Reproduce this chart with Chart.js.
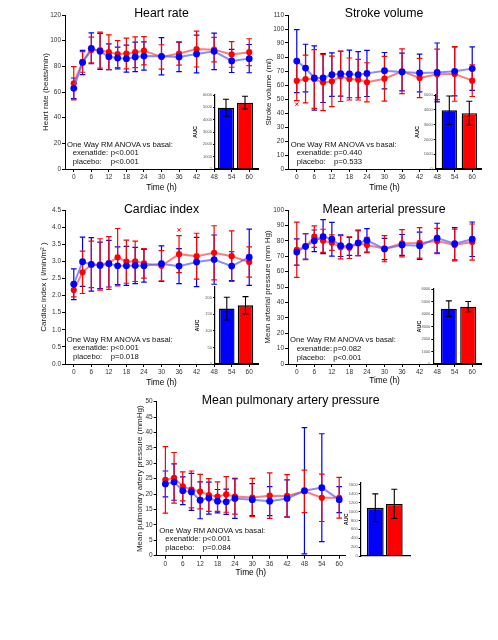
<!DOCTYPE html>
<html>
<head>
<meta charset="utf-8">
<script src="https://cdn.jsdelivr.net/npm/chart.js@4.4.1/dist/chart.umd.min.js"></script>
<style>
  body { margin: 0; background: #fff; width: 498px; height: 640px; position: relative; overflow: hidden;
         font-family: "Liberation Sans", Arial, sans-serif; }
  canvas { position: absolute; left: 0; top: 0; }
  .lbl { position: absolute; white-space: pre; color: #111; line-height: 1; }
</style>
</head>
<body>
<script>
// time points and x axis ticks (hours)
const hours = [0, 3, 6, 9, 12, 15, 18, 21, 24, 30, 36, 42, 48, 54, 60];
const timeTicks = [0, 6, 12, 18, 24, 30, 36, 42, 48, 54, 60];
const groups = ['exenatide', 'placebo'];

// Heart rate (beats/min)
const hrExe = [62.9, 83.0, 94.0, 91.7, 87.5, 86.5, 86.0, 87.3, 88.0, 87.8, 87.3, 89.6, 91.7, 84.2, 86.0];
const hrExeErr = [8, 9.5, 12, 14, 10, 8.5, 10.5, 11.5, 11, 14.5, 11.5, 14.7, 14.2, 9, 11];
const hrPla = [66.8, 83.4, 92.7, 92.7, 91.0, 89.6, 90.0, 91.0, 92.2, 87.3, 90.0, 93.5, 93.0, 89.3, 91.0];
const hrPlaErr = [13, 8, 10, 14, 13.5, 10.5, 12, 12, 11, 9.5, 9, 14, 9.5, 10, 10.5];
const hrAuc = [4970, 5380];
const hrAucErr = [690, 520];

// Stroke volume (ml)
const svExe = [77.1, 72.1, 65.0, 65.0, 67.4, 68.1, 67.9, 67.4, 68.3, 70.2, 69.3, 68.6, 69.0, 69.8, 71.7];
const svExeErr = [22.5, 17, 23, 17.5, 15.5, 16, 17, 16.5, 16.5, 13, 13.5, 13.5, 21, 17.5, 15.6];
const svPla = [62.9, 64.3, 64.3, 61.7, 62.6, 66.2, 64.3, 63.8, 61.9, 64.5, 69.8, 65.0, 67.6, 67.9, 63.1];
const svPlaErr = [14, 17, 21, 20, 18, 18, 15, 14.5, 14, 16, 16, 14, 18, 19.5, 11.3];
const svMarkT = [0];
const svMarkV = [46.3];
const svAuc = [3970, 3770];
const svAucErr = [960, 810];

// Cardiac index (l/min/m2)
const ciExe = [2.33, 2.99, 2.91, 2.88, 2.93, 2.87, 2.87, 2.88, 2.87, 2.93, 2.86, 2.98, 3.05, 2.86, 3.12];
const ciExeErr = [0.45, 0.72, 0.78, 0.68, 0.68, 0.55, 0.57, 0.53, 0.48, 0.52, 0.51, 0.72, 0.72, 0.42, 0.82];
const ciPla = [2.16, 2.68, 2.91, 2.91, 2.95, 3.12, 2.99, 3.0, 2.94, 2.87, 3.21, 3.15, 3.25, 3.15, 2.98];
const ciPlaErr = [0.2, 0.62, 0.68, 0.75, 0.77, 0.84, 0.63, 0.59, 0.43, 0.44, 0.54, 0.67, 0.79, 0.74, 0.44];
const ciMarkT = [36];
const ciMarkV = [3.92];
const ciAuc = [167, 177];
const ciAucErr = [34, 26];

// Mean arterial pressure (mm Hg)
const mapExe = [72.7, 76.4, 80.0, 82.7, 81.0, 76.8, 76.4, 78.6, 80.3, 74.7, 77.3, 76.8, 81.8, 78.1, 81.0];
const mapExeErr = [8.5, 8.3, 7, 11, 11, 7, 5.8, 8.3, 7.6, 6.9, 6.8, 8.8, 9.6, 10.5, 11.2];
const mapPla = [74.2, 76.2, 82.7, 80.0, 78.8, 75.8, 75.5, 78.4, 77.3, 74.9, 78.4, 78.6, 79.9, 77.3, 79.2];
const mapPlaErr = [17.9, 8.5, 7, 7.5, 5, 7.5, 7, 8, 5, 8.5, 8.8, 9.9, 8.2, 10.3, 11.7];
const mapAuc = [4430, 4590];
const mapAucErr = [620, 410];

// Mean pulmonary artery pressure (mmHg)
const mpExe = [23.3, 23.9, 21.1, 20.7, 18.0, 18.7, 17.7, 17.5, 18.6, 18.2, 17.7, 18.6, 21.1, 22.1, 18.2];
const mpExeErr = [4.2, 5.9, 4.5, 6, 6, 5.2, 3.8, 4.1, 6.5, 5.2, 4.7, 6, 20.5, 17.5, 4.2];
const mpPla = [24.6, 25.3, 22.5, 21.5, 20.8, 19.7, 19.2, 19.9, 19.2, 18.9, 19.5, 19.4, 20.9, 18.8, 18.8];
const mpPlaErr = [10.8, 8.2, 4.7, 6, 5.6, 5.3, 4.8, 5.8, 5.7, 6.2, 7.4, 6.9, 6.9, 7.7, 6.6];
const mpAuc = [1084, 1173];
const mpAucErr = [314, 329];

const BLUE = '#0000ff', RED = '#ff0000';
const FONT = '"Liberation Sans", Arial, sans-serif';

// error bars drawn with the chart's y scale
function drawErr(chart) {
  const ctx = chart.ctx, ys = chart.scales.y;
  chart.data.datasets.forEach((ds, i) => {
    if (!ds.err) return;
    const meta = chart.getDatasetMeta(i);
    ctx.save();
    ctx.strokeStyle = ds.errColor;
    ctx.lineWidth = ds.errWidth;
    meta.data.forEach((el, j) => {
      const v = ds.data[j].y, e = ds.err[j], w = ds.capW;
      const top = ys.getPixelForValue(v + e), bot = ys.getPixelForValue(v - e);
      ctx.beginPath();
      ctx.moveTo(el.x, top); ctx.lineTo(el.x, bot);
      ctx.moveTo(el.x - w, top); ctx.lineTo(el.x + w, top);
      ctx.moveTo(el.x - w, bot); ctx.lineTo(el.x + w, bot);
      ctx.stroke();
    });
    ctx.restore();
  });
}
const errorBars = {
  id: 'errorBars',
  beforeDatasetsDraw(chart) { if (chart.config.type === 'line') drawErr(chart); },
  afterDatasetsDraw(chart) { if (chart.config.type === 'bar') drawErr(chart); }
};

function newCanvas() {
  const cv = document.createElement('canvas');
  cv.width = 498; cv.height = 640;
  document.body.appendChild(cv);
  return cv;
}

function text(s, x, y, size, extra) {
  const d = document.createElement('div');
  d.className = 'lbl';
  d.textContent = s;
  d.style.left = x + 'px';
  d.style.top = (y - size * 0.55) + 'px';
  d.style.fontSize = size + 'px';
  if (extra) Object.assign(d.style, extra);
  document.body.appendChild(d);
}

function title(s, cx, cy) {
  text(s, cx, cy, 12.3, { transform: 'translateX(-50%)', color: '#000' });
}

function note(x0, x1, xp, y0, pExe, pPla) {
  const f = 7.7;
  text('One Way RM ANOVA vs basal:', x0, y0, f);
  text('exenatide:', x1, y0 + 8.5, f);
  text(pExe, xp, y0 + 8.5, f);
  text('placebo:', x1, y0 + 17.3, f);
  text(pPla, xp, y0 + 17.3, f);
}

function panel(p) {
  const yLh = 8 * 1.2, xLh = 8.3 * 1.2;
  const wy = p.L - p.yTitleX + yLh / 2;
  const hx = p.xTitleY - p.B + xLh / 2;
  const pts = vals => hours.map((h, i) => ({ x: h, y: vals[i] }));
  const series = (label, vals, err, color, line, r, order) => ({
    label, order, data: pts(vals), err, errColor: color, errWidth: 1.2, capW: 2.8,
    borderColor: line, borderWidth: 2, backgroundColor: color,
    pointRadius: r, pointBorderWidth: 0, pointBackgroundColor: color, tension: 0
  });
  const datasets = [
    series(groups[0], p.exe, p.exeErr, BLUE, 'rgba(90,90,255,0.7)', 3.4, 0),
    series(groups[1], p.pla, p.plaErr, RED, 'rgba(255,80,80,0.75)', 3.1, 1)
  ];
  if (p.markT) {
    datasets.push({
      order: 2,
      data: p.markT.map((t, i) => ({ x: t, y: p.markV[i] })),
      showLine: false, pointStyle: 'crossRot', pointRadius: 2.3,
      pointBorderColor: RED, pointBorderWidth: 1, pointBackgroundColor: RED
    });
  }
  new Chart(newCanvas(), {
    type: 'line',
    data: { datasets },
    options: {
      responsive: false, animation: false, events: [],
      layout: { padding: { left: p.L - wy, top: p.T, right: 498 - p.R, bottom: 640 - p.B - hx } },
      plugins: { legend: { display: false }, tooltip: { enabled: false } },
      scales: {
        x: {
          type: 'linear', min: p.xMin, max: p.xMax,
          afterBuildTicks: s => { s.ticks = timeTicks.map(v => ({ value: v })); },
          afterFit: s => { s.height = hx; },
          grid: { drawOnChartArea: false, tickLength: 3, color: '#000', tickColor: '#000' },
          border: { color: '#000', width: 1 },
          ticks: { autoSkip: false, maxRotation: 0, padding: 1.5, color: '#333', font: { size: 6.5, family: FONT } },
          title: { display: true, text: 'Time (h)', color: '#000', padding: 0, font: { size: 8.3, family: FONT } }
        },
        y: {
          min: p.yMin, max: p.yMax,
          afterFit: s => { s.width = wy; },
          grid: { drawOnChartArea: false, tickLength: 3, color: '#000', tickColor: '#000' },
          border: { color: '#000', width: 1 },
          ticks: { stepSize: p.yStep, autoSkip: false, padding: 1, color: '#333',
                   font: { size: 6.5, family: FONT }, callback: v => v.toFixed(p.yDec) },
          title: { display: true, text: p.yTitle, color: '#222', padding: 0, font: { size: 8, family: FONT } }
        }
      }
    },
    plugins: [errorBars]
  });
}

function inset(p) {
  const lh = 5.5 * 1.2;
  const wy = p.L - p.titleX + lh / 2;
  const gap = p.c2 - p.c1;
  new Chart(newCanvas(), {
    type: 'bar',
    data: {
      datasets: [{
        data: groups.map((g, i) => ({ x: i + 1, y: p.auc[i] })),
        err: p.err, errColor: '#000', errWidth: 1.1, capW: 3,
        backgroundColor: [BLUE, RED], borderColor: '#000', borderWidth: 1.4,
        barPercentage: p.bw / gap, categoryPercentage: 1
      }]
    },
    options: {
      responsive: false, animation: false, events: [],
      layout: { padding: { left: p.L - wy, top: p.T, right: 498 - p.R, bottom: 640 - p.B } },
      plugins: { legend: { display: false }, tooltip: { enabled: false } },
      scales: {
        x: {
          type: 'linear', offset: false, min: 1 - (p.c1 - p.L) / gap, max: 2 + (p.R - p.c2) / gap,
          afterBuildTicks: s => { s.ticks = groups.map((g, i) => ({ value: i + 1 })); },
          afterFit: s => { s.height = 0; },
          grid: { display: false, offset: false }, ticks: { display: false },
          border: { color: '#000', width: 1.2 }
        },
        y: {
          min: 0, max: p.max,
          afterFit: s => { s.width = wy; },
          grid: { drawOnChartArea: false, tickLength: 2, color: '#000', tickColor: '#000' },
          border: { color: '#000', width: 1.2 },
          ticks: { stepSize: p.step, includeBounds: false, autoSkip: false, padding: 1, color: '#555',
                   font: { size: 4, family: FONT }, callback: v => String(v) },
          title: { display: true, text: 'AUC', color: '#111', padding: 0,
                   font: { size: 5.5, weight: 'bold', family: FONT } }
        }
      }
    },
    plugins: [errorBars]
  });
}

// Heart rate
panel({ L: 65, R: 258, T: 15, B: 169, yTitleX: 46, xTitleY: 188, xMin: -3, xMax: 63,
        yMin: 0, yMax: 120, yStep: 20, yDec: 0, yTitle: 'Heart rate (beats/min)',
        exe: hrExe, exeErr: hrExeErr, pla: hrPla, plaErr: hrPlaErr });
inset({ L: 215, R: 258, T: 95, B: 169, titleX: 195, c1: 226, c2: 245, bw: 16,
        max: 6000, step: 1000, auc: hrAuc, err: hrAucErr });
title('Heart rate', 161.5, 14);
note(67, 72.7, 110.7, 145, 'p<0.001', 'p<0.001');

// Stroke volume
panel({ L: 288, R: 481, T: 15, B: 169, yTitleX: 268.3, xTitleY: 188, xMin: -3, xMax: 63,
        yMin: 0, yMax: 110, yStep: 10, yDec: 0, yTitle: 'Stroke volume (ml)',
        exe: svExe, exeErr: svExeErr, pla: svPla, plaErr: svPlaErr, markT: svMarkT, markV: svMarkV });
inset({ L: 435.7, R: 481, T: 95, B: 169, titleX: 417.3, c1: 449.3, c2: 469.3, bw: 15.3,
        max: 5000, step: 1000, auc: svAuc, err: svAucErr });
title('Stroke volume', 384, 14);
note(290.7, 296.7, 334, 145, 'p=0.440', 'p=0.533');

// Cardiac index
panel({ L: 65, R: 258, T: 210, B: 364, yTitleX: 44, xTitleY: 382.7, xMin: -3, xMax: 63,
        yMin: 0, yMax: 4.5, yStep: 0.5, yDec: 1, yTitle: 'Cardiac index ( l/min/m\u00b2 )',
        exe: ciExe, exeErr: ciExeErr, pla: ciPla, plaErr: ciPlaErr, markT: ciMarkT, markV: ciMarkV });
inset({ L: 215, R: 258, T: 287, B: 364, titleX: 197.3, c1: 226.8, c2: 245.5, bw: 15.5,
        max: 232, step: 50, auc: ciAuc, err: ciAucErr });
title('Cardiac index', 161.5, 210);
note(66.7, 73, 110.7, 340, 'p<0.001', 'p=0.018');

// Mean arterial pressure
panel({ L: 288, R: 481, T: 210, B: 364, yTitleX: 268, xTitleY: 381, xMin: -3, xMax: 63,
        yMin: 0, yMax: 100, yStep: 10, yDec: 0, yTitle: 'Mean arterial pressure (mm Hg)',
        exe: mapExe, exeErr: mapExeErr, pla: mapPla, plaErr: mapPlaErr });
inset({ L: 433.3, R: 481, T: 289, B: 364, titleX: 419, c1: 448.8, c2: 468.2, bw: 16,
        max: 6000, step: 1000, auc: mapAuc, err: mapAucErr });
title('Mean arterial pressure', 384, 210);
note(290, 296.7, 333.3, 340.7, 'p=0.082', 'p<0.001');

// Mean pulmonary artery pressure
panel({ L: 156.7, R: 345, T: 401.7, B: 555.7, yTitleX: 139.3, xTitleY: 572.7, xMin: -3, xMax: 62,
        yMin: 0, yMax: 50, yStep: 5, yDec: 0, yTitle: 'Mean pulmonary artery pressure (mmHg)',
        exe: mpExe, exeErr: mpExeErr, pla: mpPla, plaErr: mpPlaErr });
inset({ L: 360.7, R: 410, T: 482.7, B: 556, titleX: 346, c1: 375.3, c2: 394.3, bw: 16.7,
        max: 1650, step: 200, auc: mpAuc, err: mpAucErr });
title('Mean pulmonary artery pressure', 290.7, 400.7);
note(159.3, 165.3, 202.7, 531, 'p<0.001', 'p=0.084');
</script>
</body>
</html>
